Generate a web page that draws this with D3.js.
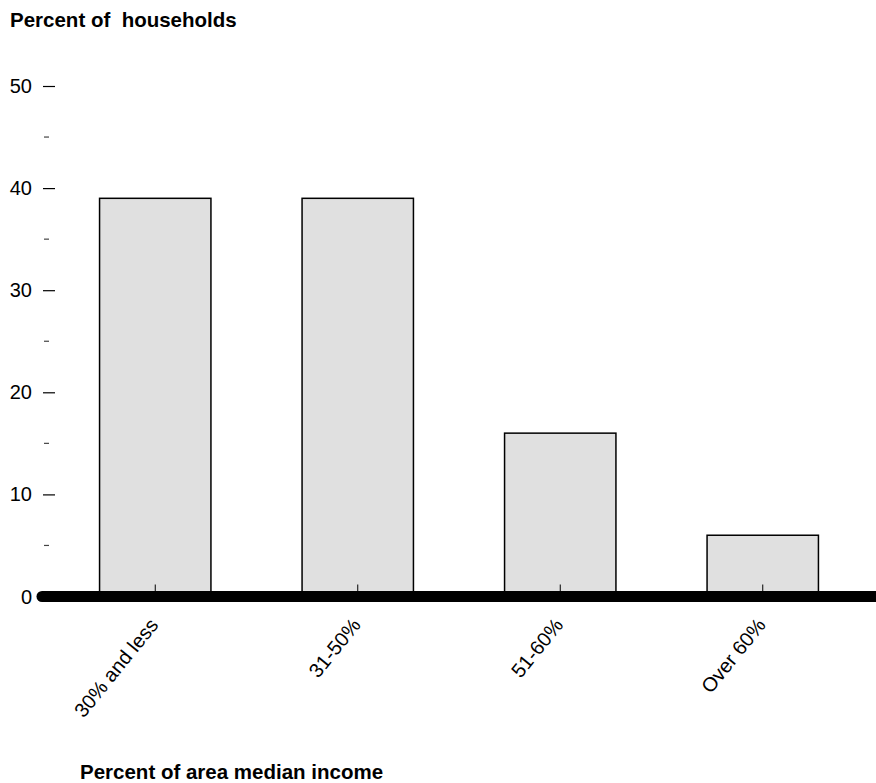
<!DOCTYPE html>
<html>
<head>
<meta charset="utf-8">
<script src="https://cdn.jsdelivr.net/npm/d3@7"></script>
<style>
  html, body { margin: 0; padding: 0; background: #fff; }
  svg { display: block; font-family: "Liberation Sans", Arial, sans-serif; }
</style>
</head>
<body>
<svg id="chart" width="876" height="783"></svg>
<script>
const categories = ["30% and less", "31-50%", "51-60%", "Over 60%"];
const values = [39, 39, 16, 6];
const majorTicks = [0, 10, 20, 30, 40, 50];
const minorTicks = [5, 15, 25, 35, 45];
const yTitle = "Percent of  households";
const xTitle = "Percent of area median income";

const svg = d3.select("#chart");
const x = d3.scaleBand().domain(categories).range([54, 864]).paddingInner(0.45).paddingOuter(0.225);
const y = d3.scaleLinear().domain([0, 50]).range([596.5, 86]);
const FS = 20;

// y axis major ticks
const yAxis = d3.axisLeft(y).tickValues(majorTicks.filter(d => d > 0)).tickSize(12).tickPadding(11).tickFormat(d3.format("d"));
const gy = svg.append("g").attr("transform", "translate(55,0)").call(yAxis);
gy.select(".domain").remove();
gy.selectAll(".tick line").attr("stroke", "#000").attr("stroke-width", 1.2);
gy.selectAll(".tick text").attr("font-size", FS).attr("fill", "#000").attr("font-family", "Liberation Sans, Arial, sans-serif");

// zero label
svg.append("text").attr("x", 32).attr("y", y(0)).attr("dy", "0.35em").attr("text-anchor", "end")
  .attr("font-size", FS).text(majorTicks[0]);

// minor ticks
svg.append("g").selectAll("line").data(minorTicks).join("line")
  .attr("x1", 44).attr("x2", 49)
  .attr("y1", d => y(d)).attr("y2", d => y(d))
  .attr("stroke", "#444").attr("stroke-width", 1.2);

// bars
svg.append("g").selectAll("rect").data(values).join("rect")
  .attr("x", (d, i) => x(categories[i]))
  .attr("width", x.bandwidth())
  .attr("y", d => y(d))
  .attr("height", d => y(0) - y(d))
  .attr("fill", "#e0e0e0")
  .attr("stroke", "#000")
  .attr("stroke-width", 1.5);

// x axis baseline (thick)
svg.append("line").attr("x1", 42).attr("x2", 900).attr("y1", y(0)).attr("y2", y(0))
  .attr("stroke", "#000").attr("stroke-width", 11).attr("stroke-linecap", "round");

// small x ticks
svg.append("g").selectAll("line").data(categories).join("line")
  .attr("x1", d => x(d) + x.bandwidth() / 2).attr("x2", d => x(d) + x.bandwidth() / 2)
  .attr("y1", y(0) - 12).attr("y2", y(0) - 5)
  .attr("stroke", "#000").attr("stroke-width", 1);

// x labels rotated
svg.append("g").selectAll("text").data(categories).join("text")
  .attr("transform", d => `translate(${x(d) + x.bandwidth() / 2 + 4},${y(0) + 29}) rotate(-51)`)
  .attr("text-anchor", "end")
  .attr("font-size", FS)
  .text(d => d);

// titles
svg.append("text").attr("x", 10).attr("y", 27).attr("font-size", 20.5).attr("font-weight", "bold")
  .attr("xml:space", "preserve").style("white-space", "pre").text(yTitle);
svg.append("text").attr("x", 80).attr("y", 779).attr("font-size", 20.5).attr("font-weight", "bold")
  .text(xTitle);
</script>
</body>
</html>
